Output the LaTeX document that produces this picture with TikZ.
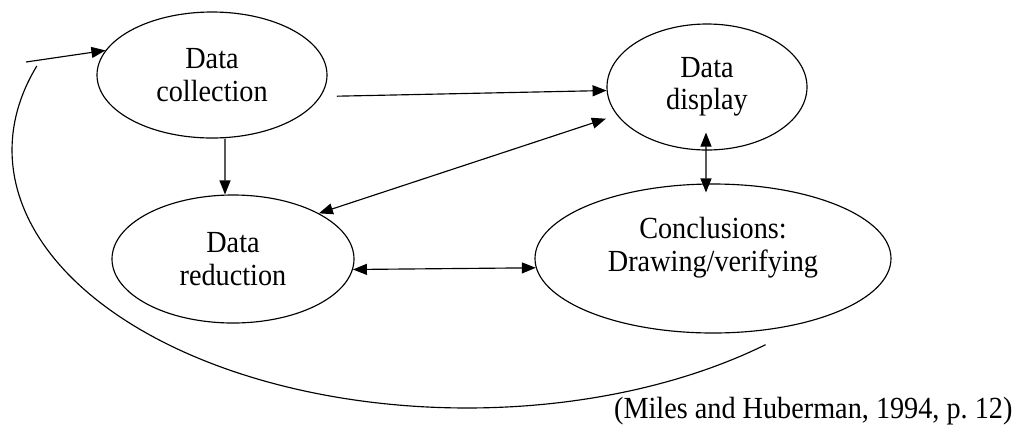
\documentclass[tikz,border=0pt]{standalone}
\usepackage{fontspec}
\setmainfont[FakeStretch=0.92]{Liberation Serif}
\usetikzlibrary{shapes.geometric,arrows.meta,calc}
\begin{document}
\begin{tikzpicture}[x=1bp,y=-1bp,
  line width=1.15bp,
  stage/.style={ellipse,draw,inner sep=0pt,align=center,
    font=\fontsize{30.8}{32.5}\selectfont},
  txt/.style={inner sep=0pt,align=center,font=\fontsize{30.8}{33}\selectfont},
  arr/.style={-{Triangle[length=14bp,width=11bp]}},
  dbl/.style={{Triangle[length=14bp,width=11bp]}-{Triangle[length=14bp,width=11bp]}}]
  \useasboundingbox (0,0) rectangle (1017,425);

  % the four stages
  \node[stage,minimum width=230bp,minimum height=126bp] (coll) at (212,75) {Data\\collection};
  \node[stage,minimum width=200bp,minimum height=126bp] (disp) at (707,87) {Data\\display};
  \node[stage,minimum width=242bp,minimum height=128bp] (red) at (233,259) {Data\\reduction};
  \node[stage,minimum width=356bp,minimum height=149bp] (concl) at (713,258.5) {};
  \node[txt] (concltxt) at (713,248) {Conclusions:\\Drawing/verifying};

  % links between stages
  \draw[arr] ([xshift=16bp]coll.-11.5) -- (disp.182);
  \draw[arr] ([xshift=13bp]coll.south) -- ([xshift=-8bp]red.north);
  \draw[dbl] ([xshift=-14bp]disp.200.4) -- (red.28.8);
  \draw[dbl] ([xshift=-1bp,yshift=18bp]disp.south) -- ([xshift=-7bp,yshift=-9bp]concl.north);
  \draw[dbl] (red.-5.3) -- (concl.183.9);

  % feedback loop back to collection
  \coordinate (fbstart) at (763,346);
  \coordinate (fbend) at (32,66);
  \coordinate (inlet) at (26,62);
  \draw plot[domain=49:199,samples=120,variable=\t]
    ({467+455*cos(\t)},{150+258*sin(\t)});
  \draw[arr] (inlet) -- (coll.167);

  % source
  \node[txt,anchor=base east] (src) at (1013,418) {(Miles and Huberman, 1994, p.~12)};
\end{tikzpicture}
\end{document}
